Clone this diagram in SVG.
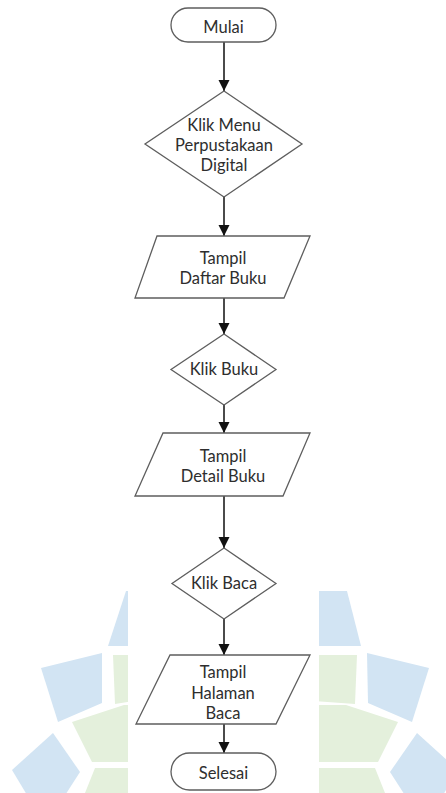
<svg xmlns="http://www.w3.org/2000/svg" width="446" height="793" viewBox="0 0 446 793">
  <style>
    .shape { fill: #ffffff; stroke: #5e5e5e; stroke-width: 1.3; }
    .label { font-family: Lato, "Open Sans", "Liberation Sans", sans-serif; font-size: 16.5px; fill: #2e2e2e; text-anchor: middle; }
    .flow { stroke: #1e1e1e; stroke-width: 1.6; fill: none; marker-end: url(#arrow); }
    .wm-blue { fill: #d2e4f3; }
    .wm-green { fill: #e4f0dc; }
  </style>
  <defs>
    <marker id="arrow" markerUnits="userSpaceOnUse" markerWidth="12" markerHeight="12" refX="11" refY="5.5" orient="auto">
      <path d="M0,0 L11,5.5 L0,11 Z" fill="#111111"/>
    </marker>
  </defs>

  <rect x="0" y="0" width="446" height="793" fill="#ffffff"/>

  <!-- background emblem, partly hidden by the chart panel -->
  <g id="emblem">
    <polygon class="wm-blue" points="126,591 140,591 140,646 108,646"/>
    <polygon class="wm-blue" points="41,668 102,653 102,703 58,722"/>
    <polygon class="wm-green" points="113,655 140,655 140,700 115,704"/>
    <polygon class="wm-green" points="72,722 124,705 140,705 140,762 92,762"/>
    <polygon class="wm-green" points="95,768 140,768 140,793 85,793"/>
    <polygon class="wm-blue" points="12,770 53,733 80,772 62,800 30,800"/>

    <polygon class="wm-blue" points="347,591 300,591 300,646 361,646"/>
    <polygon class="wm-blue" points="367,653 429,668 412,722 368,703"/>
    <polygon class="wm-green" points="357,655 300,655 300,700 355,704"/>
    <polygon class="wm-green" points="398,722 346,705 300,705 300,762 378,762"/>
    <polygon class="wm-green" points="375,768 300,768 300,793 385,793"/>
    <polygon class="wm-blue" points="458,770 417,733 390,772 408,800 440,800"/>
  </g>

  <!-- chart panel -->
  <rect x="128" y="0" width="191" height="793" fill="#ffffff"/>

  <g id="connectors">
    <line class="flow" x1="224" y1="42" x2="224" y2="91"/>
    <line class="flow" x1="224" y1="197" x2="224" y2="236"/>
    <line class="flow" x1="224" y1="298" x2="224" y2="334"/>
    <line class="flow" x1="224" y1="405" x2="224" y2="433"/>
    <line class="flow" x1="224" y1="496" x2="224" y2="548"/>
    <line class="flow" x1="224" y1="619" x2="224" y2="655"/>
    <line class="flow" x1="224" y1="724" x2="224" y2="753"/>
  </g>

  <g id="mulai">
    <rect class="shape" x="171" y="8" width="105" height="34" rx="17" ry="17"/>
    <text class="label" x="223.5" y="33">Mulai</text>
  </g>

  <g id="klik-menu">
    <polygon class="shape" points="224,91 302,144 224,197 145,144"/>
    <text class="label" x="224" y="131">Klik Menu</text>
    <text class="label" x="224" y="151">Perpustakaan</text>
    <text class="label" x="224" y="171">Digital</text>
  </g>

  <g id="tampil-daftar">
    <polygon class="shape" points="157,236 310,236 284,298 135,298"/>
    <text class="label" x="223" y="264">Tampil</text>
    <text class="label" x="223" y="284">Daftar Buku</text>
  </g>

  <g id="klik-buku">
    <polygon class="shape" points="224,334 276,369.5 224,405 171,369.5"/>
    <text class="label" x="224" y="375">Klik Buku</text>
  </g>

  <g id="tampil-detail">
    <polygon class="shape" points="163,433 310,433 283,496 135,496"/>
    <text class="label" x="223" y="462">Tampil</text>
    <text class="label" x="223" y="482">Detail Buku</text>
  </g>

  <g id="klik-baca">
    <polygon class="shape" points="224,548 276,583.5 224,619 172,583.5"/>
    <text class="label" x="224" y="589">Klik Baca</text>
  </g>

  <g id="tampil-halaman">
    <polygon class="shape" points="170,655 310,655 276,724 136,724"/>
    <text class="label" x="223" y="678">Tampil</text>
    <text class="label" x="223" y="699">Halaman</text>
    <text class="label" x="223" y="719">Baca</text>
  </g>

  <g id="selesai">
    <rect class="shape" x="171" y="753" width="105" height="37" rx="18.5" ry="18.5"/>
    <text class="label" x="223.5" y="779">Selesai</text>
  </g>
</svg>
